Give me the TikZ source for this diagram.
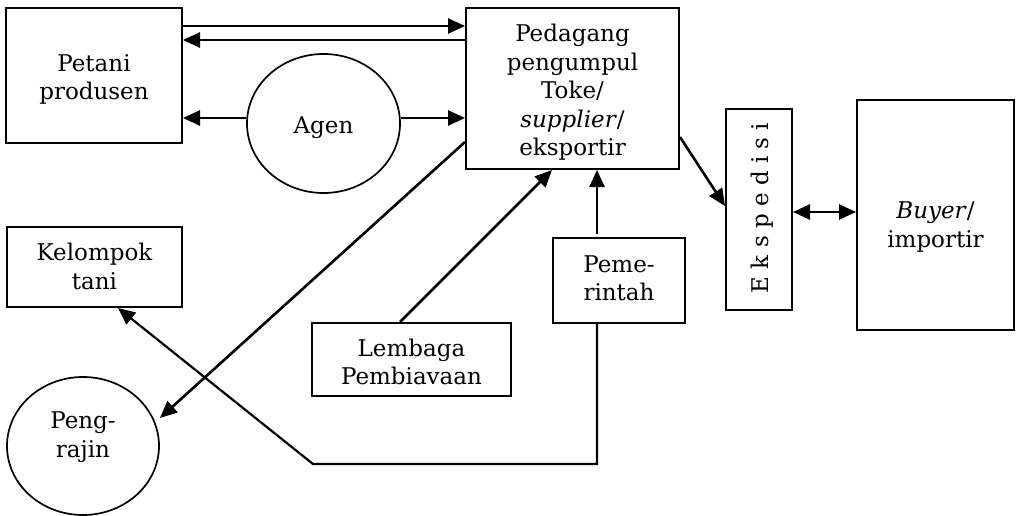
\documentclass[tikz,border=0pt]{standalone}
\usepackage{fontspec}
\setmainfont{DejaVu Serif}
\usetikzlibrary{shapes.geometric,arrows.meta}
\begin{document}
\begin{tikzpicture}[x=1pt,y=-1pt,
  lbl/.style={font=\fontsize{23pt}{28.5pt}\selectfont, align=center, inner sep=0pt},
  box/.style={draw, rectangle, line width=2pt, inner sep=0pt},
  oval/.style={draw, ellipse, line width=1.7pt, inner sep=0pt},
  tip/.tip={Triangle[length=17pt,width=15pt]},
  arr/.style={line width=2.6pt, -tip},
  dbl/.style={line width=2.6pt, tip-tip},
  conn/.style={line width=2.2pt, -tip}]
\useasboundingbox (0,0) rectangle (1020,516);

% boxes and ovals
\node[box, minimum width=176pt, minimum height=135pt] (petani) at (94,75.5) {};
\node[box, minimum width=213pt, minimum height=161pt] (pedagang) at (572.5,88.5) {};
\node[box, minimum width=175pt, minimum height=80pt] (kelompok) at (94.5,267) {};
\node[box, minimum width=199pt, minimum height=73pt] (lembaga) at (411.5,359.5) {};
\node[box, minimum width=132pt, minimum height=85pt] (pemerintah) at (619,280.5) {};
\node[box, minimum width=66pt, minimum height=201pt] (ekspedisi) at (759,209.5) {};
\node[box, minimum width=157pt, minimum height=230pt] (buyer) at (935.5,215) {};
\node[oval, minimum width=153pt, minimum height=139pt] (agen) at (323.5,123.5) {};
\node[oval, minimum width=152pt, minimum height=138pt] (pengrajin) at (83,446) {};

% labels
\node[lbl] (tpetani) at (94,79.5) {Petani\\produsen};
\node[lbl] (tpedagang) at (572.5,92.5) {Pedagang\\pengumpul\\Toke/\\\textit{supplier}/\\eksportir};
\node[lbl] (tkelompok) at (94.5,266.5) {Kelompok\\tani};
\node[lbl] (tlembaga) at (411.5,362) {Lembaga\\Pembiavaan};
\node[lbl] (tpemerintah) at (619,278.5) {Peme-\\rintah};
\node[lbl, rotate=90] (tekspedisi) at (762,208) {E k s p e d i s i};
\node[lbl] (tbuyer) at (935.5,227) {\textit{Buyer}/\\importir};
\node[lbl] (tagen) at (323.5,127.5) {Agen};
\node[lbl] (tpengrajin) at (83,437) {Peng-\\rajin};

% free ends and bends
\coordinate (rajintip) at (160,418);
\coordinate (bend) at (313,464);

% connectors
\draw[arr] (petani.east |- 0,26) -- (pedagang.west |- 0,26);
\draw[arr] (pedagang.west |- 0,40) -- (petani.east |- 0,40);
\draw[arr] (agen.west |- 0,118) -- (petani.east |- 0,118);
\draw[arr] (agen.east |- 0,118) -- (pedagang.west |- 0,118);
\draw[arr] (pedagang.west |- 0,142) -- (rajintip);
\draw[arr] ([xshift=-11.5pt]lembaga.north) -- ([xshift=-20.5pt]pedagang.south);
\draw[arr] ([xshift=-22pt,yshift=3pt]pemerintah.north) -- ([xshift=-22pt]pemerintah.north |- pedagang.south);
\draw[conn] ([xshift=-22pt]pemerintah.south) |- (bend) -- ([xshift=23.5pt]kelompok.south);
\draw[arr] (pedagang.east |- 0,137) -- (ekspedisi.west |- 0,206);
\draw[dbl] (ekspedisi.east |- 0,212) -- (buyer.west |- 0,212);
\end{tikzpicture}
\end{document}
